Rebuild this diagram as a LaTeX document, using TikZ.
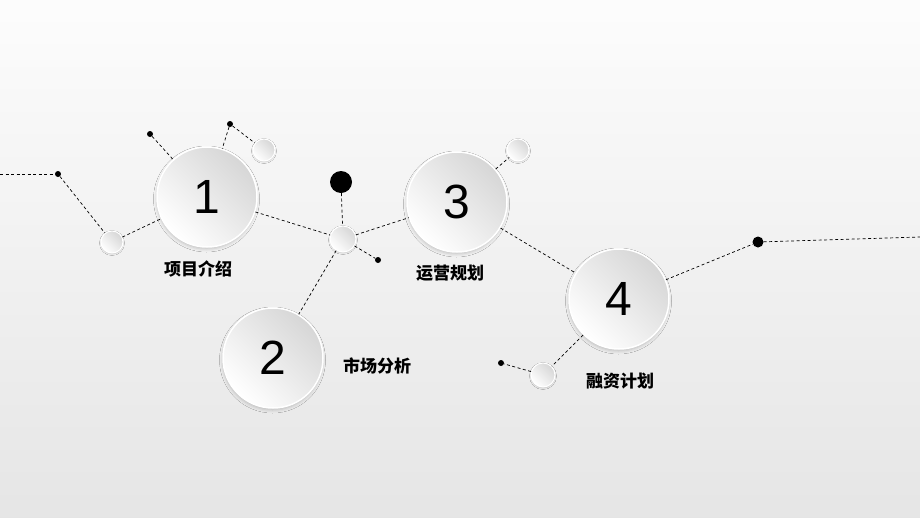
\documentclass[tikz,border=0pt]{standalone}
\usepackage{fontspec}
\setmainfont{Liberation Sans}
\newfontfamily\cjk{Noto Sans CJK SC}
\usetikzlibrary{shadows.blur}

\begin{document}
\begin{tikzpicture}[x=1pt, y=-1pt,
  ball/.style={circle, inner sep=0pt, draw=white, line width=1pt,
    bottom color=white, top color=gray!32, shading angle=-45},
  bigball/.style={ball, minimum size=100pt, line width=1.5pt,
    blur shadow={shadow xshift=-0.5pt, shadow yshift=-2pt, shadow blur radius=3pt, shadow opacity=20},
    font=\fontsize{48}{48}\selectfont},
  smallball/.style={ball, minimum size=22pt,
    blur shadow={shadow xshift=0pt, shadow yshift=-1pt, shadow blur radius=1.5pt, shadow opacity=18}},
  dot/.style={circle, fill=black, inner sep=0pt, minimum size=6pt},
  link/.style={dash pattern=on 3pt off 2.5pt, line width=0.7pt},
  lbl/.style={font=\cjk\bfseries\fontsize{17}{17}\selectfont}]

% -------- background
\shade [top color=gray!2, bottom color=gray!20] (0,0) rectangle (920,517);
\useasboundingbox (0,0) rectangle (920,517);

% -------- balls
\node [bigball] (b1) at (207,197) {1};
\node [bigball] (b2) at (273,358) {2};
\node [bigball] (b3) at (457,202) {3};
\node [bigball] (b4) at (619,299) {4};

\node [smallball] (s1) at (112,242) {};
\node [smallball] (s2) at (264,150) {};
\node [smallball, minimum size=26pt] (hub) at (343,239) {};
\node [smallball] (s3) at (518,150) {};
\node [smallball, minimum size=24pt] (s4) at (543,375) {};

% -------- dots
\node [dot] (d1) at (58,174) {};
\node [dot] (d2) at (150,134) {};
\node [dot] (d3) at (230,124) {};
\node [dot, minimum size=22pt] (d4) at (341,182) {};
\node [dot] (d5) at (378,260) {};
\node [dot] (d6) at (501,363) {};
\node [dot, minimum size=11pt] (d7) at (758,242) {};
\coordinate (w) at (0,174);
\coordinate (e) at (920,237);

% -------- links
\draw [link] (w) -- (d1);
\draw [link] (d1) -- (s1);
\draw [link] (s1) -- (b1);
\draw [link] (d2) -- (b1);
\draw [link] (d3) -- (b1);
\draw [link] (d3) -- (s2);
\draw [link] (b1) -- (hub);
\draw [link] (d4) -- (hub);
\draw [link] (hub) -- (d5);
\draw [link] (hub) -- (b3);
\draw [link] (hub) -- (b2);
\draw [link] (b3) -- (s3);
\draw [link] (b3) -- (b4);
\draw [link] (b4) -- (d7);
\draw [link] (d7) -- (e);
\draw [link] (b4) -- (s4);
\draw [link] (s4) -- (d6);

% -------- labels
\node [lbl] (l1) at (198,269) {项目介绍};
\node [lbl] (l2) at (377,366) {市场分析};
\node [lbl] (l3) at (450,273) {运营规划};
\node [lbl] (l4) at (620,381) {融资计划};

\end{tikzpicture}
\end{document}
